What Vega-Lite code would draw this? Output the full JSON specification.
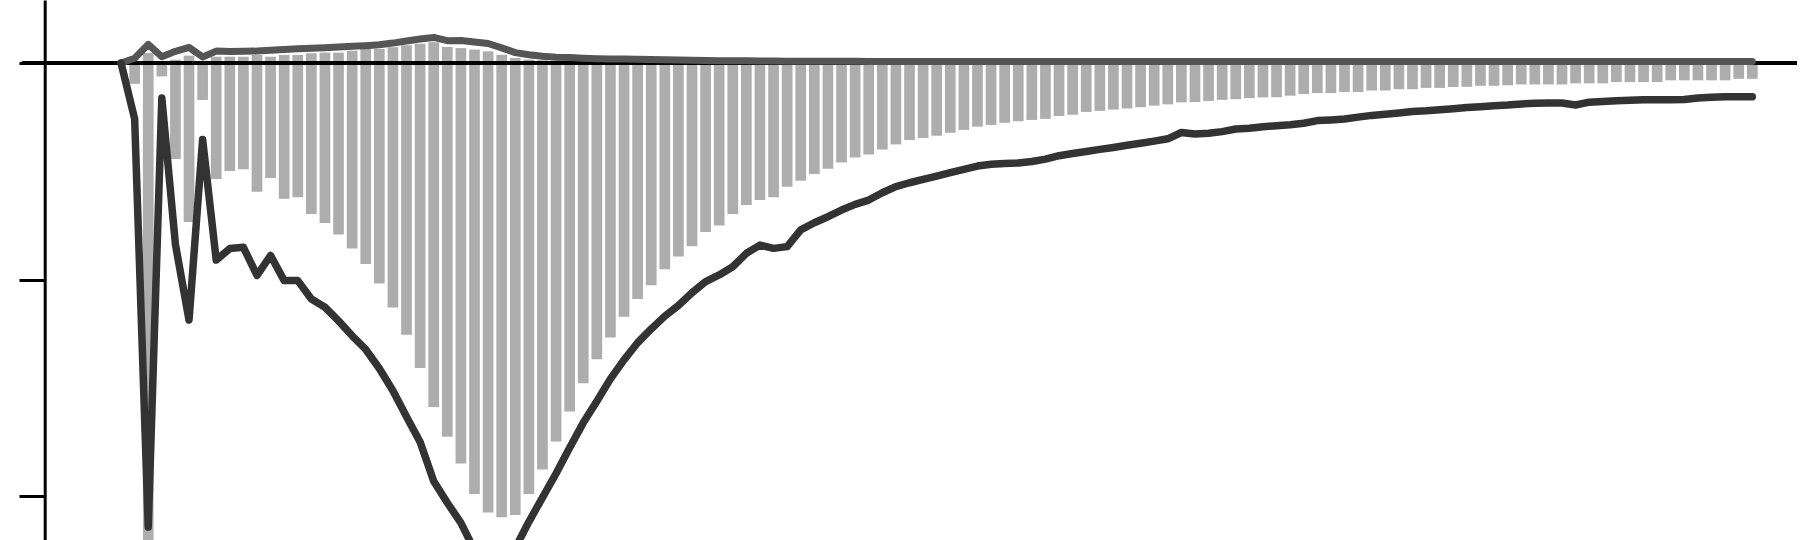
{
  "$schema": "https://vega.github.io/schema/vega-lite/v6.json",
  "width": 1800,
  "height": 540,
  "autosize": "none",
  "padding": 0,
  "background": "white",
  "config": {"view": {"stroke": null}},
  "data": {
    "values": [
      {"i": 0, "pos": 0, "neg": 0, "a": 0, "b": 0},
      {"i": 1, "pos": 0, "neg": -0.096, "a": 0.022, "b": -0.258},
      {"i": 2, "pos": 0.046, "neg": -2.45, "a": 0.086, "b": -2.143},
      {"i": 3, "pos": 0.005, "neg": -0.062, "a": 0.029, "b": -0.162},
      {"i": 4, "pos": 0.015, "neg": -0.443, "a": 0.054, "b": -0.838},
      {"i": 5, "pos": 0.034, "neg": -0.734, "a": 0.072, "b": -1.187},
      {"i": 6, "pos": 0.01, "neg": -0.171, "a": 0.028, "b": -0.353},
      {"i": 7, "pos": 0.029, "neg": -0.536, "a": 0.055, "b": -0.91},
      {"i": 8, "pos": 0.029, "neg": -0.499, "a": 0.053, "b": -0.857},
      {"i": 9, "pos": 0.029, "neg": -0.491, "a": 0.054, "b": -0.851},
      {"i": 10, "pos": 0.037, "neg": -0.595, "a": 0.055, "b": -0.981},
      {"i": 11, "pos": 0.029, "neg": -0.531, "a": 0.059, "b": -0.889},
      {"i": 12, "pos": 0.037, "neg": -0.627, "a": 0.062, "b": -1.005},
      {"i": 13, "pos": 0.037, "neg": -0.62, "a": 0.066, "b": -1.005},
      {"i": 14, "pos": 0.045, "neg": -0.697, "a": 0.068, "b": -1.09},
      {"i": 15, "pos": 0.048, "neg": -0.739, "a": 0.071, "b": -1.128},
      {"i": 16, "pos": 0.048, "neg": -0.792, "a": 0.074, "b": -1.191},
      {"i": 17, "pos": 0.057, "neg": -0.857, "a": 0.077, "b": -1.26},
      {"i": 18, "pos": 0.065, "neg": -0.928, "a": 0.08, "b": -1.323},
      {"i": 19, "pos": 0.065, "neg": -1.018, "a": 0.084, "b": -1.411},
      {"i": 20, "pos": 0.073, "neg": -1.129, "a": 0.092, "b": -1.514},
      {"i": 21, "pos": 0.082, "neg": -1.255, "a": 0.102, "b": -1.634},
      {"i": 22, "pos": 0.089, "neg": -1.409, "a": 0.111, "b": -1.75},
      {"i": 23, "pos": 0.096, "neg": -1.589, "a": 0.118, "b": -1.932},
      {"i": 24, "pos": 0.074, "neg": -1.726, "a": 0.103, "b": -2.031},
      {"i": 25, "pos": 0.069, "neg": -1.85, "a": 0.104, "b": -2.124},
      {"i": 26, "pos": 0.062, "neg": -1.991, "a": 0.097, "b": -2.25},
      {"i": 27, "pos": 0.054, "neg": -2.076, "a": 0.09, "b": -2.31},
      {"i": 28, "pos": 0.038, "neg": -2.098, "a": 0.07, "b": -2.315},
      {"i": 29, "pos": 0.023, "neg": -2.087, "a": 0.048, "b": -2.24},
      {"i": 30, "pos": 0.016, "neg": -1.991, "a": 0.038, "b": -2.119},
      {"i": 31, "pos": 0.013, "neg": -1.877, "a": 0.031, "b": -2.007},
      {"i": 32, "pos": 0.011, "neg": -1.748, "a": 0.027, "b": -1.896},
      {"i": 33, "pos": 0.01, "neg": -1.61, "a": 0.025, "b": -1.777},
      {"i": 34, "pos": 0.009, "neg": -1.479, "a": 0.022, "b": -1.662},
      {"i": 35, "pos": 0.006, "neg": -1.368, "a": 0.02, "b": -1.562},
      {"i": 36, "pos": 0.006, "neg": -1.268, "a": 0.019, "b": -1.459},
      {"i": 37, "pos": 0.006, "neg": -1.172, "a": 0.018, "b": -1.371},
      {"i": 38, "pos": 0.006, "neg": -1.09, "a": 0.017, "b": -1.292},
      {"i": 39, "pos": 0.006, "neg": -1.026, "a": 0.016, "b": -1.228},
      {"i": 40, "pos": 0.006, "neg": -0.953, "a": 0.015, "b": -1.169},
      {"i": 41, "pos": 0.006, "neg": -0.894, "a": 0.014, "b": -1.12},
      {"i": 42, "pos": 0.006, "neg": -0.846, "a": 0.013, "b": -1.061},
      {"i": 43, "pos": 0.006, "neg": -0.781, "a": 0.012, "b": -1.01},
      {"i": 44, "pos": 0.006, "neg": -0.751, "a": 0.011, "b": -0.979},
      {"i": 45, "pos": 0.006, "neg": -0.697, "a": 0.01, "b": -0.941},
      {"i": 46, "pos": 0.006, "neg": -0.656, "a": 0.01, "b": -0.879},
      {"i": 47, "pos": 0.006, "neg": -0.633, "a": 0.009, "b": -0.841},
      {"i": 48, "pos": 0.006, "neg": -0.62, "a": 0.009, "b": -0.856},
      {"i": 49, "pos": 0.006, "neg": -0.571, "a": 0.008, "b": -0.848},
      {"i": 50, "pos": 0.006, "neg": -0.544, "a": 0.008, "b": -0.771},
      {"i": 51, "pos": 0.006, "neg": -0.513, "a": 0.008, "b": -0.738},
      {"i": 52, "pos": 0.006, "neg": -0.488, "a": 0.008, "b": -0.71},
      {"i": 53, "pos": 0.006, "neg": -0.46, "a": 0.008, "b": -0.679},
      {"i": 54, "pos": 0.006, "neg": -0.436, "a": 0.008, "b": -0.653},
      {"i": 55, "pos": 0.006, "neg": -0.422, "a": 0.007, "b": -0.633},
      {"i": 56, "pos": 0.006, "neg": -0.399, "a": 0.007, "b": -0.599},
      {"i": 57, "pos": 0.006, "neg": -0.376, "a": 0.007, "b": -0.571},
      {"i": 58, "pos": 0.006, "neg": -0.356, "a": 0.007, "b": -0.553},
      {"i": 59, "pos": 0.006, "neg": -0.346, "a": 0.007, "b": -0.537},
      {"i": 60, "pos": 0.006, "neg": -0.336, "a": 0.007, "b": -0.522},
      {"i": 61, "pos": 0.006, "neg": -0.322, "a": 0.007, "b": -0.506},
      {"i": 62, "pos": 0.006, "neg": -0.309, "a": 0.007, "b": -0.491},
      {"i": 63, "pos": 0.006, "neg": -0.294, "a": 0.007, "b": -0.476},
      {"i": 64, "pos": 0.006, "neg": -0.286, "a": 0.007, "b": -0.468},
      {"i": 65, "pos": 0.006, "neg": -0.276, "a": 0.007, "b": -0.464},
      {"i": 66, "pos": 0.006, "neg": -0.269, "a": 0.007, "b": -0.462},
      {"i": 67, "pos": 0.006, "neg": -0.263, "a": 0.007, "b": -0.455},
      {"i": 68, "pos": 0.006, "neg": -0.258, "a": 0.007, "b": -0.444},
      {"i": 69, "pos": 0.006, "neg": -0.245, "a": 0.007, "b": -0.428},
      {"i": 70, "pos": 0.006, "neg": -0.239, "a": 0.007, "b": -0.418},
      {"i": 71, "pos": 0.006, "neg": -0.226, "a": 0.007, "b": -0.409},
      {"i": 72, "pos": 0.006, "neg": -0.221, "a": 0.007, "b": -0.399},
      {"i": 73, "pos": 0.006, "neg": -0.215, "a": 0.007, "b": -0.39},
      {"i": 74, "pos": 0.006, "neg": -0.21, "a": 0.007, "b": -0.38},
      {"i": 75, "pos": 0.006, "neg": -0.204, "a": 0.007, "b": -0.371},
      {"i": 76, "pos": 0.006, "neg": -0.197, "a": 0.007, "b": -0.361},
      {"i": 77, "pos": 0.006, "neg": -0.191, "a": 0.007, "b": -0.35},
      {"i": 78, "pos": 0.006, "neg": -0.182, "a": 0.007, "b": -0.321},
      {"i": 79, "pos": 0.006, "neg": -0.18, "a": 0.007, "b": -0.328},
      {"i": 80, "pos": 0.006, "neg": -0.175, "a": 0.007, "b": -0.324},
      {"i": 81, "pos": 0.006, "neg": -0.17, "a": 0.007, "b": -0.317},
      {"i": 82, "pos": 0.006, "neg": -0.167, "a": 0.007, "b": -0.305},
      {"i": 83, "pos": 0.006, "neg": -0.162, "a": 0.007, "b": -0.301},
      {"i": 84, "pos": 0.006, "neg": -0.159, "a": 0.007, "b": -0.294},
      {"i": 85, "pos": 0.006, "neg": -0.158, "a": 0.007, "b": -0.29},
      {"i": 86, "pos": 0.006, "neg": -0.151, "a": 0.007, "b": -0.285},
      {"i": 87, "pos": 0.006, "neg": -0.143, "a": 0.007, "b": -0.278},
      {"i": 88, "pos": 0.006, "neg": -0.139, "a": 0.007, "b": -0.266},
      {"i": 89, "pos": 0.006, "neg": -0.139, "a": 0.007, "b": -0.263},
      {"i": 90, "pos": 0.006, "neg": -0.134, "a": 0.007, "b": -0.259},
      {"i": 91, "pos": 0.006, "neg": -0.134, "a": 0.007, "b": -0.25},
      {"i": 92, "pos": 0.006, "neg": -0.127, "a": 0.007, "b": -0.242},
      {"i": 93, "pos": 0.006, "neg": -0.127, "a": 0.007, "b": -0.237},
      {"i": 94, "pos": 0.006, "neg": -0.121, "a": 0.007, "b": -0.231},
      {"i": 95, "pos": 0.006, "neg": -0.121, "a": 0.007, "b": -0.224},
      {"i": 96, "pos": 0.006, "neg": -0.115, "a": 0.007, "b": -0.221},
      {"i": 97, "pos": 0.006, "neg": -0.115, "a": 0.007, "b": -0.216},
      {"i": 98, "pos": 0.006, "neg": -0.111, "a": 0.007, "b": -0.211},
      {"i": 99, "pos": 0.006, "neg": -0.11, "a": 0.007, "b": -0.206},
      {"i": 100, "pos": 0.006, "neg": -0.105, "a": 0.007, "b": -0.202},
      {"i": 101, "pos": 0.006, "neg": -0.105, "a": 0.007, "b": -0.197},
      {"i": 102, "pos": 0.006, "neg": -0.103, "a": 0.007, "b": -0.194},
      {"i": 103, "pos": 0.006, "neg": -0.099, "a": 0.007, "b": -0.189},
      {"i": 104, "pos": 0.006, "neg": -0.099, "a": 0.007, "b": -0.186},
      {"i": 105, "pos": 0.006, "neg": -0.099, "a": 0.007, "b": -0.185},
      {"i": 106, "pos": 0.006, "neg": -0.099, "a": 0.007, "b": -0.185},
      {"i": 107, "pos": 0.006, "neg": -0.094, "a": 0.007, "b": -0.194},
      {"i": 108, "pos": 0.006, "neg": -0.094, "a": 0.007, "b": -0.181},
      {"i": 109, "pos": 0.006, "neg": -0.094, "a": 0.007, "b": -0.178},
      {"i": 110, "pos": 0.006, "neg": -0.088, "a": 0.007, "b": -0.174},
      {"i": 111, "pos": 0.006, "neg": -0.088, "a": 0.007, "b": -0.172},
      {"i": 112, "pos": 0.006, "neg": -0.088, "a": 0.007, "b": -0.17},
      {"i": 113, "pos": 0.006, "neg": -0.088, "a": 0.007, "b": -0.17},
      {"i": 114, "pos": 0.006, "neg": -0.08, "a": 0.007, "b": -0.17},
      {"i": 115, "pos": 0.006, "neg": -0.08, "a": 0.007, "b": -0.169},
      {"i": 116, "pos": 0.006, "neg": -0.08, "a": 0.007, "b": -0.162},
      {"i": 117, "pos": 0.006, "neg": -0.08, "a": 0.007, "b": -0.158},
      {"i": 118, "pos": 0.006, "neg": -0.08, "a": 0.007, "b": -0.156},
      {"i": 119, "pos": 0.006, "neg": -0.073, "a": 0.007, "b": -0.156},
      {"i": 120, "pos": 0.006, "neg": -0.073, "a": 0.007, "b": -0.156}
    ]
  },
  "encoding": {
    "x": {
      "field": "i",
      "type": "quantitative",
      "scale": {"domain": [-8.537, 123.14], "nice": false, "zero": false},
      "axis": null
    }
  },
  "layer": [
    {
      "mark": {"type": "bar", "orient": "vertical", "color": "#adadad", "size": 10.7, "clip": true},
      "encoding": {
        "y": {
          "field": "neg",
          "type": "quantitative",
          "title": null,
          "scale": {"domain": [-2.203, 0.291], "nice": false, "zero": false},
          "axis": {
            "offset": -44.7,
            "values": [0, -1, -2],
            "labels": false,
            "grid": false,
            "tickSize": 25.7,
            "tickWidth": 3,
            "tickColor": "black",
            "domainColor": "black",
            "domainWidth": 3
          }
        },
        "y2": {"datum": 0}
      }
    },
    {
      "mark": {"type": "bar", "orient": "vertical", "color": "#adadad", "size": 10.7, "clip": true},
      "encoding": {
        "y": {"field": "pos", "type": "quantitative", "title": null},
        "y2": {"datum": 0}
      }
    },
    {
      "mark": {"type": "rule", "color": "black", "strokeWidth": 4, "strokeCap": "round"},
      "encoding": {
        "y": {"datum": 0, "type": "quantitative"},
        "x": {"datum": -7.15, "type": "quantitative"},
        "x2": {"datum": 123.14}
      }
    },
    {
      "mark": {"type": "line", "color": "#555555", "strokeWidth": 7, "strokeJoin": "round", "strokeCap": "round", "clip": true},
      "encoding": {
        "y": {"field": "a", "type": "quantitative", "title": null}
      }
    },
    {
      "mark": {"type": "line", "color": "#333333", "strokeWidth": 7.5, "strokeJoin": "round", "strokeCap": "round", "clip": true},
      "encoding": {
        "y": {"field": "b", "type": "quantitative", "title": null}
      }
    }
  ]
}
